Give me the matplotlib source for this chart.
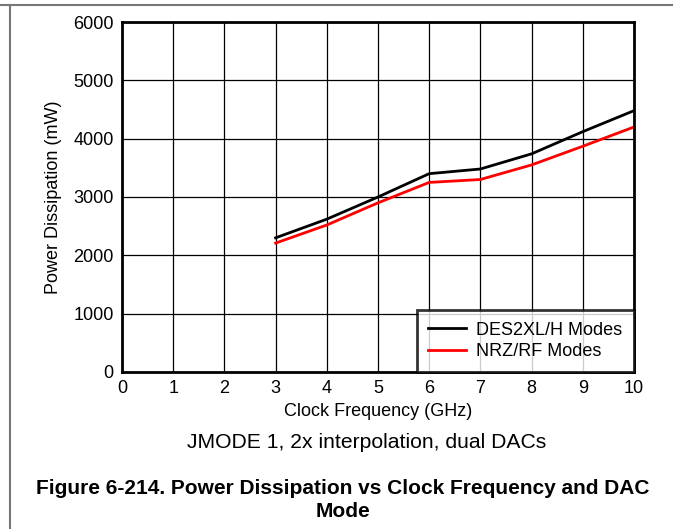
import matplotlib
matplotlib.use('Agg')
import matplotlib.pyplot as plt
from matplotlib.lines import Line2D

plt.rcParams['font.family'] = ['Liberation Sans', 'DejaVu Sans']

freq = [3, 4, 5, 6, 7, 8, 9, 10]
des2xl = [2300, 2620, 3000, 3400, 3480, 3740, 4120, 4480]
nrz = [2210, 2520, 2900, 3250, 3300, 3550, 3870, 4200]

fig = plt.figure(figsize=(6.73, 5.29), dpi=100)
ax = fig.add_axes([0.1813, 0.2968, 0.7607, 0.6616])

ax.plot(freq, des2xl, color='black', lw=2, label='DES2XL/H Modes')
ax.plot(freq, nrz, color='red', lw=2, label='NRZ/RF Modes')

ax.set_xlim(0, 10)
ax.set_ylim(0, 6000)
ax.set_xticks(range(0, 11))
ax.set_yticks(range(0, 6001, 1000))
ax.grid(True, color='black', lw=0.9)
ax.tick_params(length=0, labelsize=13, pad=6)
for s in ax.spines.values():
    s.set_linewidth(2.0)

ax.set_xlabel('Clock Frequency (GHz)', fontsize=13, labelpad=4)
ax.set_ylabel('Power Dissipation (mW)', fontsize=13, labelpad=8)

leg = ax.legend(loc='lower right', fontsize=13, frameon=True, fancybox=False,
                borderaxespad=0, handlelength=2.1, handletextpad=0.55,
                borderpad=0.65, labelspacing=0.25)
leg.get_frame().set_edgecolor('black')
leg.get_frame().set_linewidth(2.0)

fig.text(0.545, 1 - 443 / 529, 'JMODE 1, 2x interpolation, dual DACs', ha='center', va='center', fontsize=15.2)
fig.text(0.51, 1 - 500 / 529, 'Figure 6-214. Power Dissipation vs Clock Frequency and DAC\nMode',
         ha='center', va='center', fontsize=15, fontweight='bold', linespacing=1.25)

# page frame lines
fig.add_artist(Line2D([0, 1], [1 - 5 / 529, 1 - 5 / 529], color='#777777', lw=1.5))
fig.add_artist(Line2D([10 / 673, 10 / 673], [0, 1 - 5 / 529], color='#777777', lw=1.5))

fig.savefig('out.png', dpi=100)
